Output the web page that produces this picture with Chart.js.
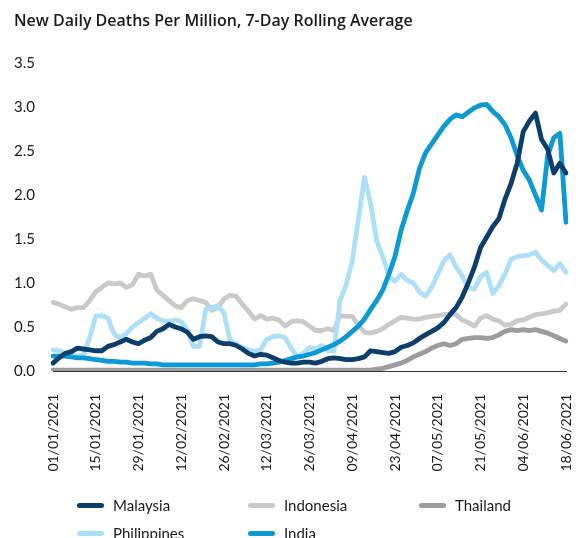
<!DOCTYPE html>
<html>
<head>
<meta charset="utf-8">
<script src="https://cdn.jsdelivr.net/npm/chart.js@4.4.1/dist/chart.umd.min.js"></script>
<style>
  body { margin: 0; background: #fff; font-family: Lato, "Noto Sans", sans-serif; color: #1a1a1a; }
  #wrap { position: relative; width: 587px; height: 538px; }
  #title { position: absolute; left: 14px; top: 9px; font-family: "Open Sans", Lato, sans-serif; font-size: 16px; font-weight: 600; }
  #legend { position: absolute; left: 77px; top: 494px; display: grid; grid-template-columns: 171px 171px 171px; row-gap: 6px; font-size: 15px; }
  .item { display: flex; align-items: center; height: 22px; }
  .swatch { width: 27px; height: 5px; border-radius: 3px; margin-right: 9px; }
</style>
</head>
<body>
<div id="wrap">
  <canvas id="chart" width="587" height="538"></canvas>
  <div id="title">New Daily Deaths Per Million, 7-Day Rolling Average</div>
  <div id="legend"></div>
</div>
<script>
// one point every 2 days, 01/01/2021 .. 18/06/2021
const startDate = Date.UTC(2021, 0, 1);
const stepDays = 2;
const tickEvery = 7; // label every 14 days

const malaysia = [
  0.09, 0.15, 0.20, 0.22, 0.26, 0.25, 0.24, 0.23, 0.23, 0.28, 0.30, 0.33, 0.36, 0.33, 0.31, 0.35,
  0.38, 0.45, 0.48, 0.53, 0.50, 0.48, 0.44, 0.36, 0.39, 0.40, 0.39, 0.33, 0.31, 0.31, 0.29, 0.25,
  0.20, 0.17, 0.19, 0.18, 0.15, 0.12, 0.10, 0.09, 0.09, 0.10, 0.10, 0.09, 0.11, 0.14, 0.15, 0.14,
  0.13, 0.13, 0.14, 0.16, 0.23, 0.22, 0.21, 0.20, 0.22, 0.27, 0.29, 0.32, 0.37, 0.41, 0.45, 0.49,
  0.55, 0.64, 0.72, 0.84, 1.00, 1.18, 1.40, 1.52, 1.64, 1.73, 1.95, 2.13, 2.36, 2.72, 2.84, 2.93,
  2.63, 2.52, 2.25, 2.36, 2.25
];
const indonesia = [
  0.78, 0.76, 0.73, 0.70, 0.72, 0.72, 0.80, 0.90, 0.95, 1.00, 0.99, 1.00, 0.95, 0.98, 1.10, 1.08,
  1.10, 0.92, 0.86, 0.80, 0.74, 0.72, 0.80, 0.82, 0.80, 0.78, 0.69, 0.72, 0.82, 0.86, 0.85, 0.76,
  0.68, 0.59, 0.63, 0.59, 0.60, 0.58, 0.51, 0.56, 0.57, 0.56, 0.51, 0.46, 0.46, 0.48, 0.46, 0.63,
  0.62, 0.62, 0.52, 0.44, 0.43, 0.45, 0.48, 0.53, 0.57, 0.61, 0.60, 0.59, 0.59, 0.61, 0.62, 0.63,
  0.64, 0.65, 0.64, 0.58, 0.55, 0.51, 0.60, 0.63, 0.59, 0.57, 0.52, 0.53, 0.57, 0.58, 0.61, 0.64,
  0.65, 0.66, 0.68, 0.69, 0.76
];
const thailand = [
  0.01, 0.01, 0.01, 0.01, 0.01, 0.01, 0.01, 0.01, 0.01, 0.01, 0.01, 0.01, 0.01, 0.01, 0.01, 0.01,
  0.01, 0.01, 0.01, 0.01, 0.01, 0.01, 0.01, 0.01, 0.01, 0.01, 0.01, 0.01, 0.01, 0.01, 0.01, 0.01,
  0.01, 0.01, 0.01, 0.01, 0.01, 0.01, 0.01, 0.01, 0.01, 0.01, 0.01, 0.01, 0.01, 0.01, 0.01, 0.01,
  0.01, 0.01, 0.01, 0.01, 0.01, 0.02, 0.03, 0.05, 0.07, 0.09, 0.12, 0.16, 0.19, 0.22, 0.26, 0.29,
  0.31, 0.29, 0.31, 0.36, 0.37, 0.38, 0.38, 0.37, 0.38, 0.41, 0.45, 0.47, 0.46, 0.47, 0.46, 0.47,
  0.45, 0.43, 0.40, 0.37, 0.34
];
const philippines = [
  0.24, 0.23, 0.20, 0.18, 0.17, 0.18, 0.38, 0.62, 0.63, 0.60, 0.42, 0.38, 0.42, 0.50, 0.55, 0.60,
  0.65, 0.60, 0.57, 0.56, 0.58, 0.56, 0.47, 0.28, 0.28, 0.70, 0.72, 0.74, 0.66, 0.34, 0.31, 0.27,
  0.24, 0.22, 0.24, 0.36, 0.39, 0.40, 0.38, 0.26, 0.16, 0.20, 0.27, 0.25, 0.29, 0.23, 0.23, 0.80,
  0.98, 1.25, 1.72, 2.20, 1.90, 1.48, 1.30, 1.08, 1.02, 1.10, 1.03, 1.00, 0.90, 0.85, 0.95, 1.10,
  1.25, 1.32, 1.18, 1.08, 0.95, 0.93, 1.07, 1.12, 0.88, 0.97, 1.10, 1.27, 1.30, 1.31, 1.32, 1.35,
  1.26, 1.20, 1.14, 1.22, 1.12
];
const india = [
  0.17, 0.17, 0.17, 0.16, 0.15, 0.15, 0.14, 0.13, 0.12, 0.11, 0.11, 0.10, 0.10, 0.09, 0.09, 0.09,
  0.08, 0.08, 0.07, 0.07, 0.07, 0.07, 0.07, 0.07, 0.07, 0.07, 0.07, 0.07, 0.07, 0.07, 0.07, 0.07,
  0.07, 0.07, 0.08, 0.08, 0.09, 0.10, 0.12, 0.14, 0.16, 0.17, 0.19, 0.21, 0.24, 0.27, 0.30, 0.34,
  0.39, 0.45, 0.51, 0.59, 0.70, 0.80, 0.92, 1.10, 1.30, 1.60, 1.82, 2.02, 2.30, 2.48, 2.58, 2.68,
  2.78, 2.86, 2.91, 2.89, 2.94, 2.99, 3.02, 3.03, 2.95, 2.89, 2.80, 2.65, 2.45, 2.28, 2.17, 2.00,
  1.83, 2.45, 2.65, 2.70, 1.69
];

const pad = n => String(n).padStart(2, '0');
const labels = malaysia.map((_, i) => {
  const d = new Date(startDate + i * stepDays * 86400000);
  return pad(d.getUTCDate()) + '/' + pad(d.getUTCMonth() + 1) + '/' + d.getUTCFullYear();
});

// legend order
const series = [
  { name: 'Malaysia', data: malaysia, color: '#0c3e6c' },
  { name: 'Indonesia', data: indonesia, color: '#cacaca' },
  { name: 'Thailand', data: thailand, color: '#9c9ca0' },
  { name: 'Philippines', data: philippines, color: '#ace0f8' },
  { name: 'India', data: india, color: '#0c9ad6' }
];
// drawing order: first dataset ends up on top
const drawOrder = ['Malaysia', 'India', 'Philippines', 'Indonesia', 'Thailand'];

const datasets = drawOrder.map(n => {
  const s = series.find(x => x.name === n);
  return {
    label: s.name,
    data: s.data,
    borderColor: s.color,
    backgroundColor: s.color,
    borderWidth: 4.8,
    borderCapStyle: 'round',
    borderJoinStyle: 'round',
    pointRadius: 0,
    tension: 0,
    fill: false
  };
});

const font = 'Lato, "Noto Sans", sans-serif';

new Chart(document.getElementById('chart'), {
  type: 'line',
  data: { labels: labels, datasets: datasets },
  options: {
    responsive: false,
    animation: false,
    layout: { padding: { top: 63, left: 0, right: 21, bottom: 0 } },
    plugins: {
      legend: { display: false },
      tooltip: { enabled: false }
    },
    scales: {
      x: {
        grid: { display: false, drawTicks: false },
        border: { display: true, color: '#333', width: 1 },
        afterFit: scale => {
          scale.height = 167;
          scale.paddingLeft = 0;
          scale.paddingRight = 0;
        },
        ticks: {
          autoSkip: false,
          maxRotation: 90,
          minRotation: 90,
          padding: 23,
          color: '#1a1a1a',
          font: { family: font, size: 14 },
          callback: function (val, i) {
            return i % tickEvery === 0 ? this.getLabelForValue(val) : null;
          }
        }
      },
      y: {
        min: 0,
        max: 3.5,
        grid: { display: false, drawTicks: false },
        border: { display: false },
        afterFit: scale => { scale.width = 53; },
        ticks: {
          stepSize: 0.5,
          padding: 18,
          color: '#1a1a1a',
          font: { family: font, size: 15 },
          callback: v => v.toFixed(1)
        }
      }
    }
  }
});

const legend = document.getElementById('legend');
series.forEach(s => {
  const item = document.createElement('div');
  item.className = 'item';
  item.innerHTML = '<span class="swatch" style="background:' + s.color + '"></span>' + s.name;
  legend.appendChild(item);
});
</script>
</body>
</html>
